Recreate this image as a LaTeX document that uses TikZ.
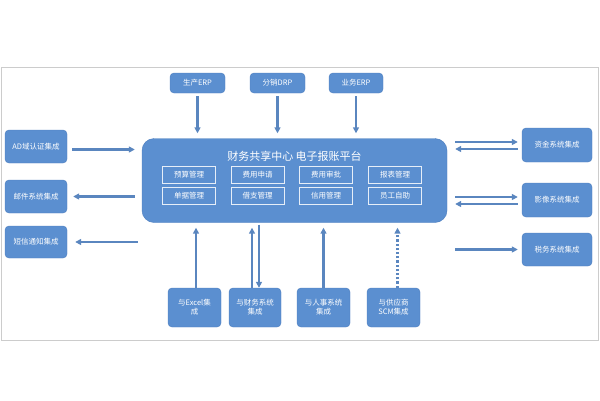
\documentclass[tikz,border=0pt]{standalone}
\usepackage{fontspec}
\setmainfont{Noto Sans CJK SC}
\usetikzlibrary{positioning,arrows.meta}
\definecolor{boxblue}{HTML}{5B8FD0}
\definecolor{boxline}{HTML}{4C7DBE}
\definecolor{arrowblue}{HTML}{5A86BF}
\tikzset{
  sysbox/.style={draw=boxline, fill=boxblue, rounded corners=4pt, text=white, font=\fontsize{7.5}{9}\selectfont, align=center, inner sep=1pt},
  modbox/.style={draw=white!85!boxblue, line width=0.7pt, text=white, font=\fontsize{7.5}{9}\selectfont, minimum width=53pt, minimum height=17pt, inner sep=0pt},
  arr/.style={-{Triangle[length=6pt,width=6pt]}, draw=arrowblue, line width=2.2pt}
}
\begin{document}
\begin{tikzpicture}[x=1pt, y=-1pt]
    \useasboundingbox (0,0) rectangle (600,400);
    \draw[gray!40, line width=0.6pt] (1,67) rectangle (598,340);

    % platform
    \node[sysbox, rounded corners=12pt, minimum width=305pt, minimum height=84pt] (main) at (294.5,180.5) {};
    \node[text=white, font=\fontsize{11}{13}\selectfont] (title) at (294.5,156) {财务共享中心 电子报账平台};
    \node[modbox] (ys) at (189,174.5) {预算管理};
    \node[modbox] (fs) at (257.5,174.5) {费用申请};
    \node[modbox] (fp) at (326,174.5) {费用审批};
    \node[modbox] (bb) at (395,174.5) {报表管理};
    \node[modbox] (dj) at (189,196) {单据管理};
    \node[modbox] (jz) at (257.5,196) {借支管理};
    \node[modbox] (xy) at (326,196) {信用管理};
    \node[modbox] (yg) at (395,196) {员工自助};

    % top
    \node[sysbox, minimum width=55pt, minimum height=20pt] (erp1) at (197.5,83) {生产ERP};
    \node[sysbox, minimum width=55pt, minimum height=20pt] (drp) at (277.5,83) {分销DRP};
    \node[sysbox, minimum width=54pt, minimum height=20pt] (erp2) at (356,83) {业务ERP};

    % left
    \node[sysbox, minimum width=62pt, minimum height=33pt] (ad) at (36,146.5) {AD域认证集成};
    \node[sysbox, minimum width=62pt, minimum height=33pt] (mail) at (36,196.5) {邮件系统集成};
    \node[sysbox, minimum width=62pt, minimum height=32pt] (sms) at (36,242) {短信通知集成};

    % right
    \node[sysbox, minimum width=70pt, minimum height=34pt] (zj) at (557,145) {资金系统集成};
    \node[sysbox, minimum width=70pt, minimum height=34pt] (yx) at (557,200) {影像系统集成};
    \node[sysbox, minimum width=70pt, minimum height=33pt] (sw) at (557,249.5) {税务系统集成};

    % bottom
    \node[sysbox, minimum width=53pt, minimum height=39pt] (excel) at (194.5,307.5) {与Excel集\\成};
    \node[sysbox, minimum width=52pt, minimum height=39pt] (cw) at (255,307.5) {与财务系统\\集成};
    \node[sysbox, minimum width=53pt, minimum height=39pt] (rs) at (323.5,307.5) {与人事系统\\集成};
    \node[sysbox, minimum width=53pt, minimum height=39pt] (scm) at (393.5,307.5) {与供应商\\SCM集成};

    \draw[arr, shorten <=3pt, shorten >=5pt] (erp1) -- (erp1 |- main.north);
    \draw[arr, shorten <=3pt, shorten >=5pt] (drp) -- (drp |- main.north);
    \draw[arr, shorten <=3pt, shorten >=5pt] (erp2) -- (erp2 |- main.north);

    \draw[arr, shorten <=5pt, shorten >=7pt] ([yshift=-3pt]ad.east) -- ([yshift=-3pt]ad.east -| main.west);
    \draw[arr, shorten <=7pt, shorten >=6pt] (mail -| main.west) -- (mail.east);
    \draw[arr, shorten <=4pt, shorten >=8pt] (sms -| main.west) -- (sms.east);

    \draw[arr, shorten <=8pt, shorten >=4pt] ([yshift=3pt]zj.west -| main.east) -- ([yshift=3pt]zj.west);
    \draw[arr, shorten <=4pt, shorten >=8pt] ([yshift=-4pt]zj.west) -- ([yshift=-4pt]zj.west -| main.east);
    \draw[arr, shorten <=8pt, shorten >=4pt] ([yshift=3pt]yx.west -| main.east) -- ([yshift=3pt]yx.west);
    \draw[arr, shorten <=4pt, shorten >=8pt] ([yshift=-4pt]yx.west) -- ([yshift=-4pt]yx.west -| main.east);
    \draw[arr, shorten <=8pt, shorten >=4pt] (sw -| main.east) -- (sw.west);

    \draw[arr, shorten >=5pt] ([xshift=1.5pt]excel.north) -- ([xshift=1.5pt]excel.north |- main.south);
    \draw[arr, shorten >=5pt] ([xshift=-3pt]cw.north) -- ([xshift=-3pt]cw.north |- main.south);
    \draw[arr, shorten <=2pt] ([xshift=4pt]cw.north |- main.south) -- ([xshift=4pt]cw.north);
    \draw[arr, shorten >=5pt] (rs.north) -- (rs.north |- main.south);
    \draw[arr, dotted, shorten >=5pt] ([xshift=4pt]scm.north) -- ([xshift=4pt]scm.north |- main.south);
\end{tikzpicture}
\end{document}
